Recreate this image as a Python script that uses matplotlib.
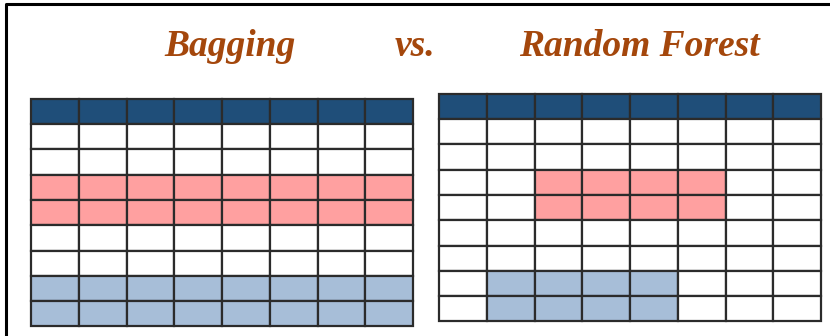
import matplotlib
matplotlib.use("Agg")
import matplotlib.pyplot as plt
from matplotlib.patches import Rectangle

# table layout: header row + 8 data rows, 8 columns
n_cols = 8
n_rows = 8

# highlighted blocks: (rows, cols, colour)
bagging_blocks = [([2, 3], list(range(8)), "#ffa0a0"),
                  ([6, 7], list(range(8)), "#a7bed8")]
forest_blocks = [([2, 3], [2, 3, 4, 5], "#ffa0a0"),
                 ([6, 7], [1, 2, 3, 4], "#a7bed8")]

titles = ["Bagging", "vs.", "Random Forest"]
title_x = [230, 415, 639]

header_color = "#1f4e79"
line_color = "#2b2b2b"
title_color = "#a4470c"


def draw_table(ax, x0, y0, w, h, blocks):
    cw = w / n_cols
    rh = h / (n_rows + 1)
    # header
    for c in range(n_cols):
        ax.add_patch(Rectangle((x0 + c * cw, y0), cw, rh, facecolor=header_color,
                               edgecolor=line_color, lw=1.6, zorder=2))
    # body cells
    for r in range(n_rows):
        for c in range(n_cols):
            fc = "white"
            for rows, cols, col in blocks:
                if r in rows and c in cols:
                    fc = col
            ax.add_patch(Rectangle((x0 + c * cw, y0 + (r + 1) * rh), cw, rh,
                                   facecolor=fc, edgecolor=line_color, lw=1.6, zorder=2))


fig = plt.figure(figsize=(8.3, 3.36), dpi=100)
ax = fig.add_axes([0, 0, 1, 1])
ax.set_xlim(0, 830)
ax.set_ylim(336, 0)
ax.axis("off")

# frame on top and left
ax.plot([6, 6, 830], [336, 4, 4], color="black", lw=2.2, solid_capstyle="butt", zorder=3)

draw_table(ax, 31, 98.5, 382, 228, bagging_blocks)
draw_table(ax, 439, 93.5, 382, 228, forest_blocks)

for t, x in zip(titles, title_x):
    ax.text(x, 47, t, ha="center", va="center", fontsize=27, color=title_color,
            family="Liberation Serif", fontweight="bold", fontstyle="italic")

fig.savefig("out.png", dpi=100)
